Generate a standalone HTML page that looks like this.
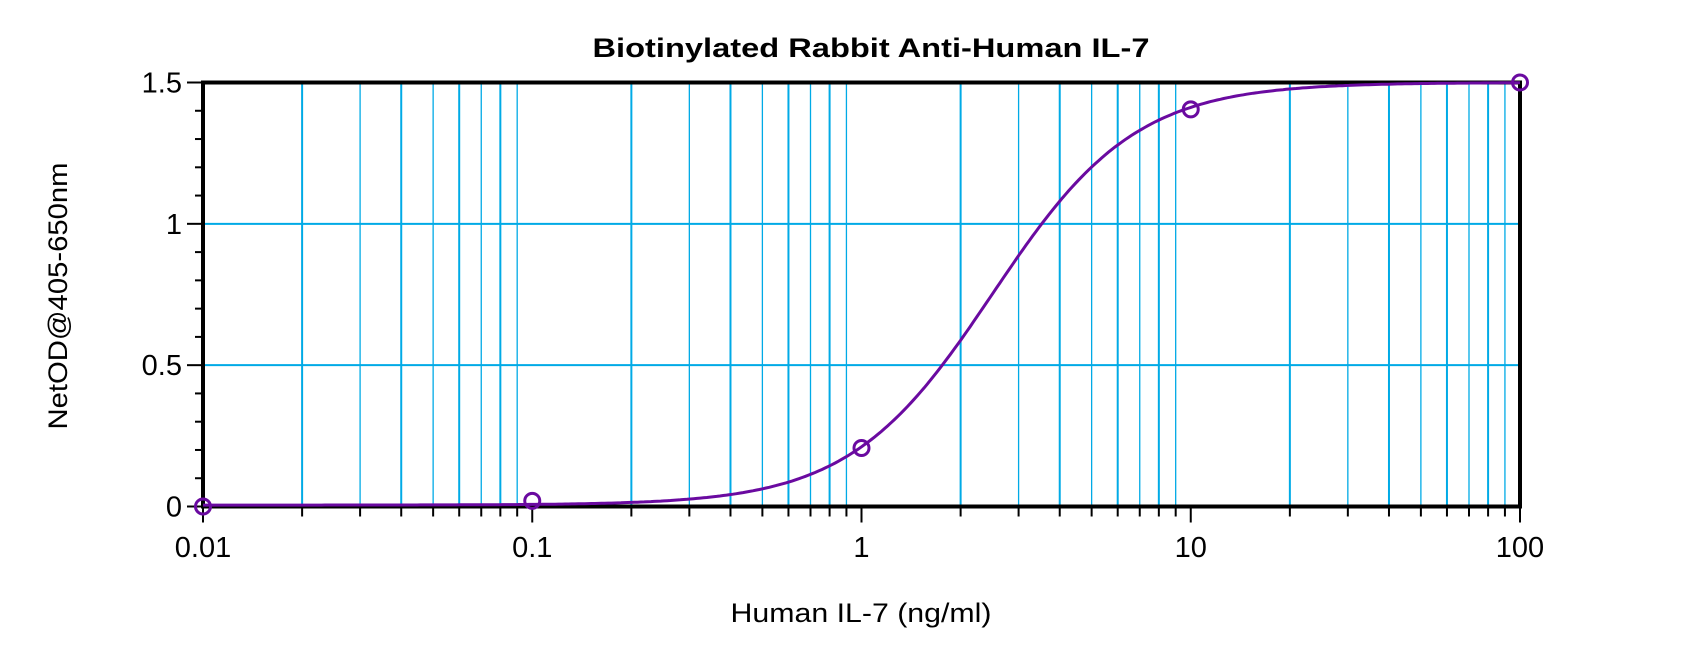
<!DOCTYPE html>
<html><head><meta charset="utf-8"><style>
html,body{margin:0;padding:0;background:#fff;width:1700px;height:651px;overflow:hidden}
svg text{font-family:"Liberation Sans",Arial,sans-serif;fill:#000}
</style></head><body>
<svg id="s" width="1700" height="651" xmlns="http://www.w3.org/2000/svg">
<text x="871" y="57" text-anchor="middle" font-size="27" font-weight="bold" textLength="557" lengthAdjust="spacingAndGlyphs">Biotinylated Rabbit Anti-Human IL-7</text>
<g id="grid"></g>
<g id="ax"></g>
<path id="curve" fill="none" stroke="#6a0aa0" stroke-width="3"/>
<g id="pts" fill="none" stroke="#6a0aa0" stroke-width="3"></g>
<text x="861" y="622" text-anchor="middle" font-size="27" textLength="261" lengthAdjust="spacingAndGlyphs">Human IL-7 (ng/ml)</text>
<text transform="translate(67,296) rotate(-90)" text-anchor="middle" font-size="27" textLength="267" lengthAdjust="spacingAndGlyphs">NetOD@405-650nm</text>
</svg>
<script>
var L=203,R=1520,T=82.5,B=506.5,D=(R-L)/4,ns="http://www.w3.org/2000/svg";
function X(v){return L+(Math.log10(v)+2)*D}
function Y(v){return B-(v/1.5)*(B-T)}
function el(p,t,a,txt){var e=document.createElementNS(ns,t);for(var k in a)e.setAttribute(k,a[k]);if(txt)e.textContent=txt;document.getElementById(p).appendChild(e);return e}
for(var d=-2;d<2;d++)for(var m=1;m<=9;m++){var x=X(m*Math.pow(10,d));
 if(m>1)el("grid","line",{x1:x,x2:x,y1:T,y2:B,stroke:"#00aae6","stroke-width":(m%2==0?2:1.3)});
 el("ax","line",{x1:x,x2:x,y1:B,y2:B+(m==1?16:10),stroke:"#000","stroke-width":2});}
el("ax","line",{x1:R,x2:R,y1:B,y2:B+16,stroke:"#000","stroke-width":2});
[0.5,1].forEach(function(v){el("grid","line",{x1:L,x2:R,y1:Y(v),y2:Y(v),stroke:"#00aae6","stroke-width":2})});
for(var i=0;i<=15;i++){var y=Y(i/10);el("ax","line",{x1:L-(i%5==0?16:8),x2:L,y1:y,y2:y,stroke:"#000","stroke-width":2});}
el("ax","rect",{x:L,y:T,width:R-L,height:B-T,fill:"none",stroke:"#000","stroke-width":4});
["0","0.5","1","1.5"].forEach(function(t,i){el("ax","text",{x:182,y:Y(i*0.5)+10,"text-anchor":"end","font-size":29},t)});
["0.01","0.1","1","10","100"].forEach(function(t,i){el("ax","text",{x:L+i*D,y:557,"text-anchor":"middle","font-size":29},t)});
var a=0.005,dd=1.5,b=2.0,c=2.5;function f(x){return dd+(a-dd)/(1+Math.pow(x/c,b))}
var p="";for(var k=0;k<=400;k++){var lx=-2+4*k/400,x=Math.pow(10,lx);p+=(k?"L":"M")+X(x).toFixed(1)+","+Y(f(x)).toFixed(1)}
document.getElementById("curve").setAttribute("d",p);
[[0.01,0.0],[0.1,0.02],[1,0.207],[10,1.405],[100,1.5]].forEach(function(q){el("pts","circle",{cx:X(q[0]),cy:Y(q[1]),r:7.5})});
</script>
</body></html>
